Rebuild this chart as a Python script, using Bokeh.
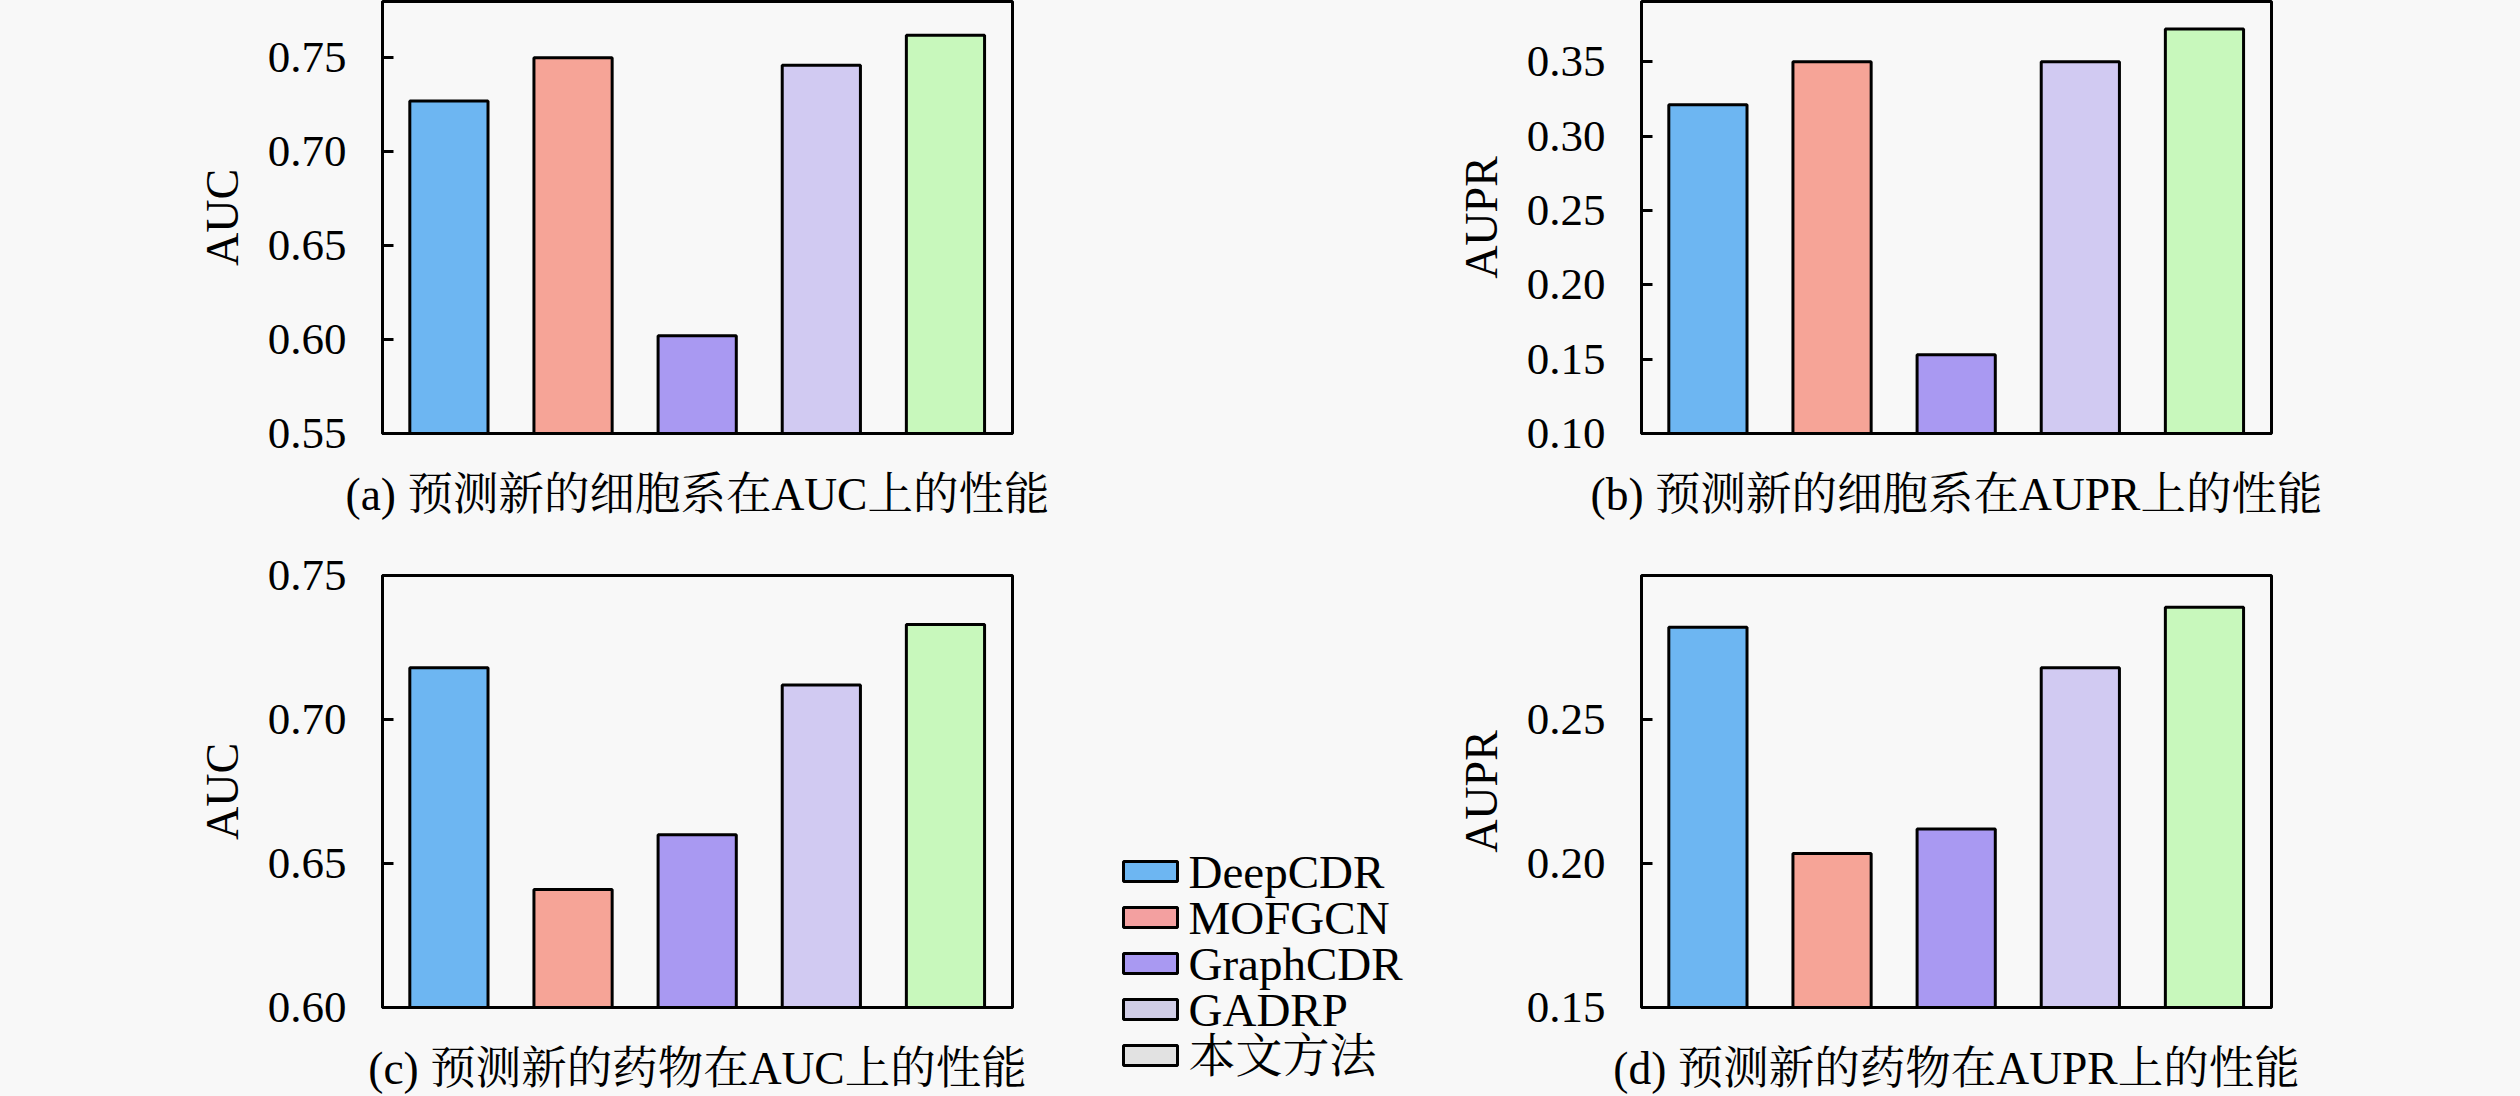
from bokeh.plotting import figure
from bokeh.models import (Range1d, FixedTicker, PrintfTickFormatter, ColumnDataSource)
from bokeh.core.properties import value
from bokeh.layouts import row, column
from bokeh.embed import file_html
from bokeh.resources import INLINE

# ---------------- data ----------------
methods = ["DeepCDR", "MOFGCN", "GraphCDR", "GADRP", "本文方法"]
bar_colors = ["#6DB6F2", "#F6A497", "#A999F2", "#D1CAF2", "#C8F8BC"]
legend_colors = ["#6DB6F2", "#F3A0A0", "#A999F2", "#D0CDE6", "#E2E2E2"]

auc_new_cell = [0.727, 0.750, 0.602, 0.746, 0.762]
aupr_new_cell = [0.321, 0.350, 0.153, 0.350, 0.372]
auc_new_drug = [0.718, 0.641, 0.660, 0.712, 0.733]
aupr_new_drug = [0.282, 0.2035, 0.212, 0.268, 0.289]

ticks_a = [0.55, 0.60, 0.65, 0.70, 0.75]
ticks_b = [0.10, 0.15, 0.20, 0.25, 0.30, 0.35]
ticks_c = [0.60, 0.65, 0.70, 0.75]
ticks_d = [0.15, 0.20, 0.25]

captions = ["(a) 预测新的细胞系在AUC上的性能",
            "(b) 预测新的细胞系在AUPR上的性能",
            "(c) 预测新的药物在AUC上的性能",
            "(d) 预测新的药物在AUPR上的性能"]
ylabels = ["AUC", "AUPR", "AUC", "AUPR"]

# ---------------- style ----------------
BG = "#F8F8F8"
FONT = "Liberation Serif, Noto Serif CJK SC, Noto Sans CJK SC"

FRAME_W = 630
FRAME_H = 432
positions = list(range(len(methods)))


def make_panel(values, y_start, y_end, ticks, ylabel, caption,
               mb_left, mb_right, mb_top, mb_bottom):
    p = figure(x_range=Range1d(-0.535, len(methods) - 1 + 0.54),
               y_range=Range1d(y_start, y_end),
               width=mb_left + FRAME_W + mb_right, height=mb_top + FRAME_H + mb_bottom,
               output_backend="svg", toolbar_location=None,
               min_border_left=mb_left, min_border_right=mb_right,
               min_border_top=mb_top, min_border_bottom=mb_bottom,
               background_fill_color=BG, border_fill_color=BG,
               outline_line_color="black", outline_line_width=3)
    src = ColumnDataSource(dict(pos=positions, method=methods, value=values, color=bar_colors))
    p.vbar(x="pos", top="value", bottom=y_start, width=0.63, source=src,
           fill_color="color", line_color="black", line_width=3)
    p.xgrid.visible = False
    p.ygrid.visible = False

    ya = p.yaxis[0]
    ya.ticker = FixedTicker(ticks=ticks)
    ya.formatter = PrintfTickFormatter(format="%.2f")
    ya.major_tick_in = 11
    ya.major_tick_out = 0
    ya.minor_tick_in = 0
    ya.minor_tick_out = 0
    ya.major_tick_line_width = 3
    ya.axis_line_width = 3
    ya.major_label_text_font = FONT
    ya.major_label_text_font_size = "45px"
    ya.major_label_text_color = "black"
    ya.major_label_standoff = 36
    ya.axis_label = ylabel
    ya.axis_label_text_font = FONT
    ya.axis_label_text_font_style = "normal"
    ya.axis_label_text_font_size = "46px"
    ya.axis_label_text_color = "black"
    ya.axis_label_standoff = 17

    xa = p.xaxis[0]
    xa.ticker = FixedTicker(ticks=[])
    xa.major_tick_in = 0
    xa.major_tick_out = 0
    xa.minor_tick_in = 0
    xa.minor_tick_out = 0
    xa.axis_line_width = 3
    xa.major_label_standoff = 0
    xa.axis_label = caption
    xa.axis_label_text_font = FONT
    xa.axis_label_text_font_style = "normal"
    xa.axis_label_text_font_size = "45.5px"
    xa.axis_label_text_color = "black"
    xa.axis_label_standoff = 35
    return p


LEFT_MB_L, LEFT_MB_R = 382, 96
RIGHT_MB_L, RIGHT_MB_R = 233, 138
TOP_MB_T, TOP_MB_B = 1, 118
BOT_MB_T, BOT_MB_B = 24, 112
MID_W = 300

pa = make_panel(auc_new_cell, 0.55, 0.78, ticks_a, ylabels[0], captions[0],
                LEFT_MB_L, LEFT_MB_R, TOP_MB_T, TOP_MB_B)
pb = make_panel(aupr_new_cell, 0.10, 0.3905, ticks_b, ylabels[1], captions[1],
                RIGHT_MB_L, RIGHT_MB_R, TOP_MB_T, TOP_MB_B)
pc = make_panel(auc_new_drug, 0.60, 0.75, ticks_c, ylabels[2], captions[2],
                LEFT_MB_L, LEFT_MB_R, BOT_MB_T, BOT_MB_B)
pd_ = make_panel(aupr_new_drug, 0.15, 0.30, ticks_d, ylabels[3], captions[3],
                 RIGHT_MB_L, RIGHT_MB_R, BOT_MB_T, BOT_MB_B)

# ---------------- legend (middle column) ----------------
GAP_H = 847
LEG_H = 240
gap = figure(width=MID_W, height=GAP_H, output_backend="svg", toolbar_location=None,
             min_border=0, x_range=Range1d(0, 1), y_range=Range1d(0, 1),
             background_fill_color=BG, border_fill_color=BG, outline_line_color=None)
gap.axis.visible = False
gap.grid.visible = False

ROW_PX = 46.0
leg = figure(width=MID_W, height=LEG_H, output_backend="svg", toolbar_location=None,
             min_border=0, x_range=Range1d(0, MID_W),
             y_range=Range1d(-(LEG_H - 24) / ROW_PX, 24 / ROW_PX),
             background_fill_color=BG, border_fill_color=BG, outline_line_color=None)
leg.axis.visible = False
leg.grid.visible = False
leg_src = ColumnDataSource(dict(
    row=[-i for i in range(len(methods))],
    patch_x=[42] * len(methods),
    text_x=[80] * len(methods),
    label=methods,
    color=legend_colors))
leg.rect(x="patch_x", y="row", width=54, height=20, width_units="screen",
         height_units="screen", source=leg_src, fill_color="color",
         line_color="black", line_width=3)
leg.text(x="text_x", y="row", text="label", source=leg_src, text_align="left",
         text_baseline="middle", text_font=value(FONT), text_font_size="47px",
         text_color="black")

layout = row(column(pa, pc), column(gap, leg), column(pb, pd_))

html = file_html(layout, INLINE, title="chart")
html = html.replace("</head>",
                    "<style>html, body { background: #F8F8F8 !important; overflow: hidden; }"
                    "</style></head>", 1)
open("out.html", "w").write(html)
